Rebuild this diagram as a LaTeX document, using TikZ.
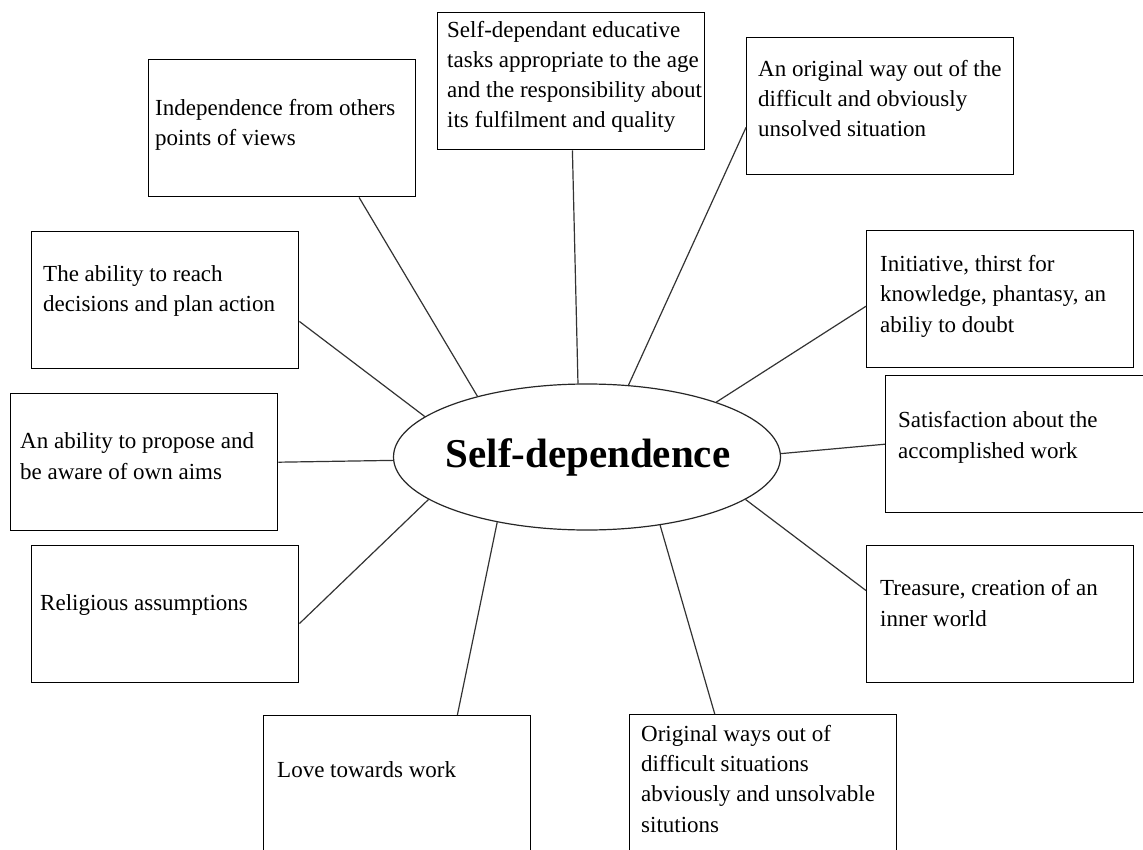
\documentclass[tikz,border=0pt]{standalone}
\usepackage{fontspec}
\setmainfont{Liberation Serif}
\usetikzlibrary{shapes.geometric}
\begin{document}
\begin{tikzpicture}[x=1pt,y=-1pt,
  box/.style={draw=black, line width=1.4pt, minimum width=267pt, minimum height=137pt, inner sep=0pt, anchor=north west},
  txt/.style={font=\fontsize{23}{30.3}\selectfont, align=left, inner sep=0pt, anchor=base west},
  link/.style={draw=black!80, line width=1.2pt}]
\useasboundingbox (0,0) rectangle (1143,850);
\clip (0,0) rectangle (1143,850);
\fill[white] (0,0) rectangle (1143,850);
% boxes
\node[box] (b1) at (148,59) {};
\node[box] (b2) at (437,12) {};
\node[box] (b3) at (746,37) {};
\node[box] (b4) at (31,231) {};
\node[box] (b5) at (866,230) {};
\node[box] (b6) at (10,393) {};
\node[box] (b7) at (885,375) {};
\node[box] (b8) at (31,545) {};
\node[box] (b9) at (866,545) {};
\node[box] (b10) at (263,715) {};
\node[box] (b11) at (629,714) {};
% texts (anchored at the baseline of their last line)
\node[txt] (t1) at (155,146) {Independence from others\\points of views};
\node[txt] (t2) at (447,128) {Self-dependant educative\\tasks appropriate to the age\\and the responsibility about\\its fulfilment and quality};
\node[txt] (t3) at (758,137) {An original way out of the\\difficult and obviously\\unsolved situation};
\node[txt] (t4) at (43,312) {The ability to reach\\decisions and plan action};
\node[txt] (t5) at (880,332) {Initiative, thirst for\\knowledge, phantasy, an\\abiliy to doubt};
\node[txt] (t6) at (20,479) {An ability to propose and\\be aware of own aims};
\node[txt] (t7) at (898,458) {Satisfaction about the\\accomplished work};
\node[txt] (t8) at (40,610) {Religious assumptions};
\node[txt] (t9) at (880,626) {Treasure, creation of an\\inner world};
\node[txt] (t10) at (277,777) {Love towards work};
\node[txt] (t11) at (641,832) {Original ways out of\\difficult situations\\abviously and unsolvable\\situtions};
% centre
\node[draw=black!85, ellipse, line width=1.2pt, minimum width=387pt, minimum height=146pt, inner sep=0pt] (c) at (587,457) {};
\node[font=\bfseries\fontsize{41}{41}\selectfont, inner sep=0pt, anchor=base] (ct) at (588,467) {Self-dependence};
% connectors
\draw[link] (c.151.1) -- (b1.-42.4);
\draw[link] (c.97) -- (b2.-89.2);
\draw[link] (c.60.3) -- (b3.189.4);
\draw[link] (c.166.3) -- (b4.-9.2);
\draw[link] (c.23.6) -- (b5.183);
\draw[link] (c.181.8) -- (b6.-0.4);
\draw[link] (c.1.2) -- (b7.west);
\draw[link] (c.195.7) -- (b8.-4.9);
\draw[link] (c.-15.7) -- (b9.170.4);
\draw[link] (c.216) -- (b10.49);
\draw[link] (c.-43.3) -- (b11.125.6);
\end{tikzpicture}
\end{document}
